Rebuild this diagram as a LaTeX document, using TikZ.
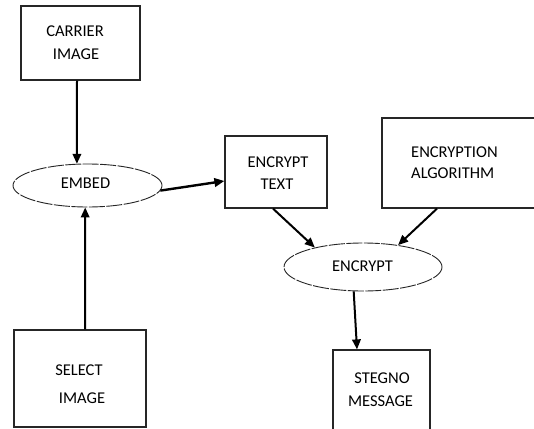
\documentclass[tikz,border=0pt]{standalone}
\usepackage{fontspec}
\setmainfont{Carlito}
\usetikzlibrary{shapes.geometric,arrows.meta}
\tikzset{
  box/.style={draw=black!85, line width=1.2pt, rectangle, inner sep=0pt},
  oval/.style={draw=black!85, line width=0.9pt, dash pattern=on 16pt off 1.5pt,
               ellipse, inner sep=0pt},
  lbl/.style={inner sep=0pt, anchor=base, font=\fontsize{16.5}{19}\selectfont, text=black},
  arr/.style={draw=black, line width=2pt, -{Triangle[length=10pt,width=8.5pt]}}
}
\begin{document}
\begin{tikzpicture}[x=1pt,y=-1pt]
\useasboundingbox[fill=white] (0,0) rectangle (534,428);

% boxes
\node[box, minimum width=119pt, minimum height=74pt] (carrier) at (80.5,43) {};
\node[box, minimum width=132pt, minimum height=97pt] (select) at (80,378.5) {};
\node[box, minimum width=102pt, minimum height=72pt] (etext) at (276,172) {};
\node[box, minimum width=158pt, minimum height=90pt] (algo) at (461,163) {};
\node[box, minimum width=97pt, minimum height=90pt] (stegno) at (381.5,395) {};

% ellipses
\node[oval, minimum width=149pt, minimum height=43pt] (embed) at (87.5,185.5) {};
\node[oval, minimum width=158pt, minimum height=48pt] (encrypt) at (363,267) {};

% labels
\node[lbl] (t1) at (75,37) {CARRIER};
\node[lbl] (t2) at (76,59.5) {IMAGE};
\node[lbl] (t3) at (85.5,188.5) {EMBED};
\node[lbl] (t4) at (278,167.5) {ENCRYPT};
\node[lbl] (t5) at (277,189.5) {TEXT};
\node[lbl, anchor=base west] (t6) at (411,157) {ENCRYPTION};
\node[lbl, anchor=base west] (t7) at (411,178.5) {ALGORITHM};
\node[lbl] (t8) at (362.5,271.5) {ENCRYPT};
\node[lbl] (t9) at (79,375.5) {SELECT};
\node[lbl] (t10) at (82,403) {IMAGE};
\node[lbl] (t11) at (382,383.5) {STEGNO};
\node[lbl] (t12) at (380.5,406) {MESSAGE};

% connectors
\draw[arr] ([xshift=-3.5pt]carrier.south) -- (embed.116);
\draw[arr] ([xshift=5pt]select.north) -- (embed.264);
\draw[arr, line width=2.4pt] (embed.-4) -- ([yshift=-9pt]etext.west);
\draw[arr] ([xshift=-3pt]etext.south) -- (encrypt.158);
\draw[arr] ([xshift=-24pt]algo.south) -- (encrypt.32);
\draw[arr] (encrypt.249) -- ([xshift=-24.5pt]stegno.north);
\end{tikzpicture}
\end{document}
